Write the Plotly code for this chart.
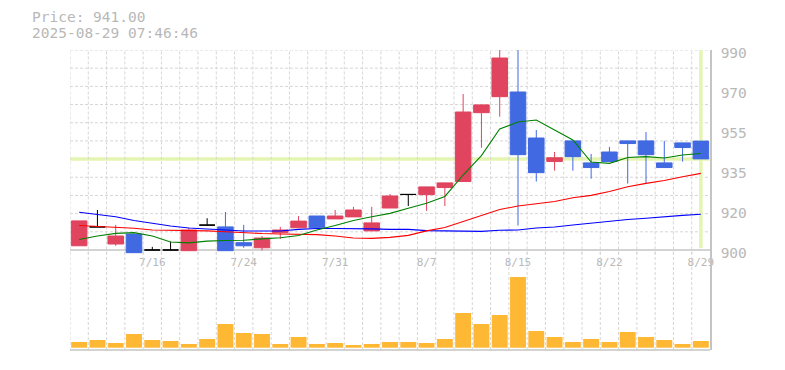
import plotly.graph_objects as go
import numpy as np

# ---------------- data ----------------
dates = ["7/10", "7/11", "7/14", "7/15", "7/16", "7/17", "7/18", "7/22", "7/23", "7/24", "7/25",
         "7/28", "7/29", "7/30", "7/31", "8/1", "8/4", "8/5", "8/6", "8/7", "8/8",
         "8/12", "8/13", "8/14", "8/15", "8/18", "8/19", "8/20", "8/21", "8/22",
         "8/25", "8/26", "8/27", "8/28", "8/29"]

opens = [901.9, 910.4, 902.7, 907.2, 900.0, 900.0, 899.7, 911.2, 910.4, 903.3, 901.0,
         907.8, 910.0, 915.3, 914.0, 914.9, 908.6, 918.9, 925.0, 924.9, 928.1,
         930.8, 961.8, 969.0, 971.1, 950.4, 939.8, 949.1, 939.2, 944.1,
         949.1, 949.1, 939.2, 948.2, 949.0]
highs = [913.1, 918.0, 911.3, 907.2, 901.4, 903.8, 910.0, 914.3, 917.1, 911.3, 906.3,
         910.4, 915.3, 915.3, 918.0, 919.4, 919.4, 925.2, 925.0, 928.4, 930.2,
         970.2, 965.3, 993.0, 993.0, 954.0, 944.1, 949.1, 943.2, 946.4,
         949.1, 953.1, 949.1, 948.2, 949.0]
lows = [901.9, 910.4, 901.9, 898.8, 900.0, 900.0, 899.7, 911.2, 899.7, 901.0, 899.8,
        905.0, 910.0, 910.0, 914.0, 914.9, 908.6, 918.9, 919.8, 917.6, 919.8,
        930.8, 946.0, 960.0, 911.0, 930.8, 935.7, 935.7, 932.1, 939.8,
        929.9, 929.9, 937.1, 939.8, 941.0]
closes = [913.1, 910.4, 906.3, 898.8, 900.0, 900.0, 909.0, 911.2, 899.7, 901.9, 905.4,
          909.0, 913.0, 910.0, 915.3, 918.0, 912.2, 924.3, 925.0, 928.4, 930.2,
          962.1, 965.3, 986.4, 942.9, 934.8, 941.5, 942.0, 937.1, 939.8,
          947.9, 942.9, 937.1, 946.1, 941.0]

ma_short = [904.7, 906.3, 907.5, 907.8, 906.3, 903.6, 903.2, 904.0, 904.3, 904.4, 905.0,
            905.5, 906.5, 909.0, 911.0, 913.3, 915.0, 916.5, 918.75, 921.0, 924.1,
            933.75, 942.5, 954.45, 957.6, 958.5, 954.0, 949.5, 939.6, 939.0,
            941.6, 942.0, 941.4, 942.75, 943.4]
ma_mid = [911.0, 910.7, 910.3, 909.8, 909.0, 908.9, 908.8, 908.6, 908.2, 907.7, 907.4,
          907.2, 907.1, 906.9, 906.3, 905.4, 905.25, 905.7, 906.6, 908.6, 910.1,
          912.8, 915.5, 918.2, 919.8, 920.9, 921.8, 923.5, 924.6, 926.3,
          928.5, 930.0, 931.3, 933.0, 934.5]
ma_long = [917.0, 916.0, 915.0, 913.3, 911.9, 910.8, 909.9, 909.3, 909.0, 908.55, 908.55,
           908.55, 909.3, 909.7, 909.7, 909.7, 909.5, 909.3, 909.3, 908.7, 908.7,
           908.4, 908.4, 908.9, 909.0, 909.9, 910.35, 911.25, 912.15, 913.0,
           913.7, 914.3, 915.1, 915.6, 916.1]

volumes = [57, 77, 47, 137, 77, 67, 37, 87, 237, 147, 137,
           37, 107, 37, 47, 27, 37, 57, 57, 47, 87,
           347, 237, 327, 707, 167, 107, 57, 87, 57,
           157, 107, 77, 37, 67]

x_tick_labels = ["7/16", "7/24", "7/31", "8/7", "8/15", "8/22", "8/29"]
y_tick_vals = [900, 918, 936, 954, 972, 990]
y_tick_text = ["900", "920", "935", "955", "970", "990"]
timestamp = "2025-08-29 07:46:46"

# ---------------- styles ----------------
RED = "#e0445e"
BLUE = "#4169e1"
BLACK = "#000000"
VOL = "#ffb833"
GRID = "#d6d6d6"
AXIS = "#c4c4c4"
TXT = "#b8b8b8"
HILITE = "#e4f5b2"
MONO = "DejaVu Sans Mono"
DASH = "3px,2px"

n = len(dates)
xs = list(range(n))
P_RANGE = [898, 990]
V_RANGE = [-23, 977]

fig = go.Figure()

# moving averages (drawn below candles)
for vals, col in [(ma_long, "#0000ff"), (ma_mid, "#ff0000"), (ma_short, "#008000")]:
    fig.add_trace(go.Scatter(x=xs, y=vals, mode="lines", line=dict(color=col, width=1.1),
                             hoverinfo="skip", yaxis="y"))


def candle(idx, color):
    return go.Candlestick(
        x=[xs[i] for i in idx],
        open=[opens[i] for i in idx], high=[highs[i] for i in idx],
        low=[lows[i] for i in idx], close=[closes[i] for i in idx],
        increasing=dict(line=dict(color=color, width=1), fillcolor=color),
        decreasing=dict(line=dict(color=color, width=1), fillcolor=color),
        whiskerwidth=0, yaxis="y", hoverinfo="skip")


up_idx = [i for i in xs if closes[i] > opens[i]]
dn_idx = [i for i in xs if closes[i] < opens[i]]
dj_idx = [i for i in xs if closes[i] == opens[i]]
fig.add_trace(candle(up_idx, RED))
fig.add_trace(candle(dn_idx, BLUE))
fig.add_trace(candle(dj_idx, BLACK))

fig.add_trace(go.Bar(x=xs, y=volumes, marker=dict(color=VOL, line=dict(width=0)),
                     yaxis="y2", hoverinfo="skip"))

tick_idx = [dates.index(d) for d in x_tick_labels]

# grid lines (decoration)
shapes = []
for gv in np.linspace(900, 990, 12)[1:]:
    shapes.append(dict(type="line", xref="paper", x0=0, x1=1, yref="y", y0=gv, y1=gv,
                       line=dict(color=GRID, width=1, dash=DASH), layer="below"))
for k in range(n):
    for yr, rng in (("y", P_RANGE), ("y2", V_RANGE)):
        shapes.append(dict(type="line", xref="x", x0=k - 0.5, x1=k - 0.5, yref=yr,
                           y0=rng[0], y1=rng[1],
                           line=dict(color=GRID, width=1, dash=DASH), layer="below"))
shapes += [
    dict(type="line", xref="paper", x0=0, x1=1, yref="y", y0=closes[-1], y1=closes[-1],
         line=dict(color=HILITE, width=3.5), layer="below"),
    dict(type="line", xref="x", x0=xs[-1], x1=xs[-1], yref="y", y0=900.8, y1=990,
         line=dict(color=HILITE, width=3.5), layer="below"),
    dict(type="line", xref="paper", x0=0, x1=1, yref="y", y0=900, y1=900,
         line=dict(color=AXIS, width=1.5), layer="below"),
    dict(type="line", xref="paper", x0=0, x1=1, yref="paper", y0=0, y1=0,
         line=dict(color=AXIS, width=1.5), layer="above"),
]

fig.update_layout(
    width=785, height=370,
    margin=dict(l=70, r=75, t=50, b=20),
    paper_bgcolor="white", plot_bgcolor="rgba(0,0,0,0)",
    showlegend=False,
    boxgap=0.15, boxgroupgap=0, bargap=0.13,
    xaxis=dict(range=[-0.5, n - 0.5], tickmode="array", tickvals=tick_idx,
               ticktext=x_tick_labels, showgrid=False, zeroline=False, showline=False,
               ticks="", tickfont=dict(family=MONO, size=11, color=TXT),
               rangeslider=dict(visible=False), anchor="y"),
    yaxis=dict(domain=[0.3185, 1], range=P_RANGE, side="right", tickmode="array",
               tickvals=y_tick_vals, ticktext=y_tick_text, showgrid=False,
               showline=True, linecolor=AXIS, linewidth=1.5, ticks="", zeroline=False,
               tickfont=dict(family=MONO, size=14.5, color=TXT),
               ticklabelstandoff=6, ticklabelshift=3, anchor="x"),
    yaxis2=dict(domain=[0, 1 / 3], range=V_RANGE, side="right", showgrid=False,
                showticklabels=False, showline=True, linecolor=AXIS, linewidth=1.5,
                ticks="", zeroline=False, anchor="x"),
    shapes=shapes,
    annotations=[
        dict(text=f"Price: {closes[-1]:.2f}", xref="paper", yref="paper",
             x=(30 - 70) / 640, y=(350 - 17) / 300, xanchor="left", yanchor="middle",
             showarrow=False, font=dict(family=MONO, size=14.5, color=TXT)),
        dict(text=timestamp, xref="paper", yref="paper",
             x=(30 - 70) / 640, y=(350 - 33) / 300, xanchor="left", yanchor="middle",
             showarrow=False, font=dict(family=MONO, size=14.5, color=TXT)),
    ],
)

fig.write_html("out.html", config={"displayModeBar": False})
